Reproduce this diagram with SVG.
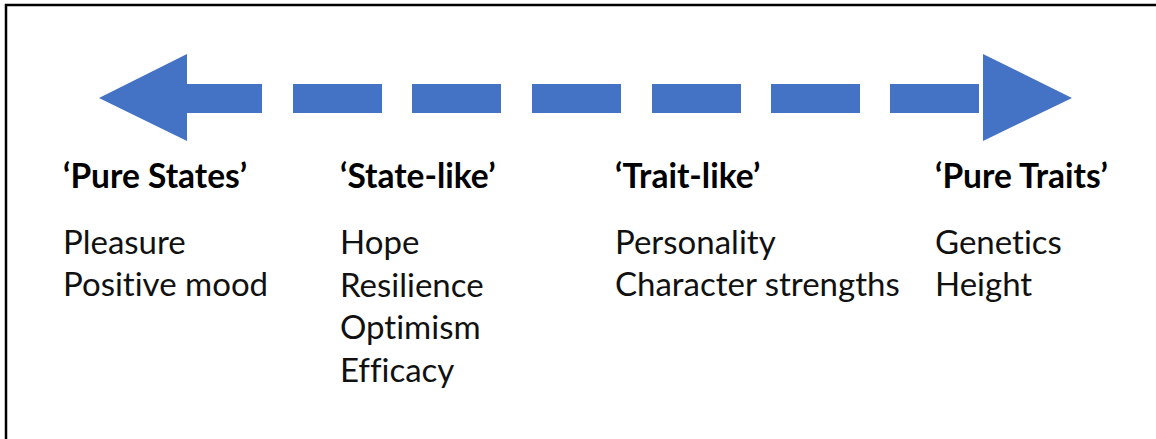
<svg xmlns="http://www.w3.org/2000/svg" width="1156" height="439" viewBox="0 0 1156 439">
<style>
.frame{fill:none;stroke:#000;stroke-width:2.5}
.ar{fill:#4472C4}
text{font-family:Lato,"Liberation Sans",sans-serif;font-variant-ligatures:none}
.h{font-weight:bold;font-size:33.5px;fill:#000}
.t{font-size:33px;fill:#111}
</style>
<rect width="1156" height="439" fill="#fff"/>
<rect class="frame" x="6" y="5" width="1200" height="500"/>
<g id="connectors">
<polygon class="ar" points="99,98 187,54 187,84 262,84 262,113 187,113 187,141"/>
<rect class="ar" x="293" y="84" width="89" height="29"/>
<rect class="ar" x="412" y="84" width="89" height="29"/>
<rect class="ar" x="532" y="84" width="89" height="29"/>
<rect class="ar" x="652" y="84" width="89" height="29"/>
<rect class="ar" x="771" y="84" width="89" height="29"/>
<rect class="ar" x="890" y="84" width="89" height="29"/>
<polygon class="ar" points="983,54 1072,98 983,141"/>
</g>
<g id="pure-states">
<text class="h" x="63" y="188">‘Pure States’</text>
<text class="t" x="63" y="254">Pleasure</text>
<text class="t" x="63" y="296">Positive mood</text>
</g>
<g id="state-like">
<text class="h" x="340" y="188">‘State-like’</text>
<text class="t" x="340" y="254">Hope</text>
<text class="t" x="340" y="297">Resilience</text>
<text class="t" x="340" y="339">Optimism</text>
<text class="t" x="340" y="382">Efficacy</text>
</g>
<g id="trait-like">
<text class="h" x="615" y="188">‘Trait-like’</text>
<text class="t" x="615" y="254">Personality</text>
<text class="t" x="615" y="296">Character strengths</text>
</g>
<g id="pure-traits">
<text class="h" x="935" y="188">‘Pure Traits’</text>
<text class="t" x="935" y="254">Genetics</text>
<text class="t" x="935" y="296">Height</text>
</g>
</svg>
